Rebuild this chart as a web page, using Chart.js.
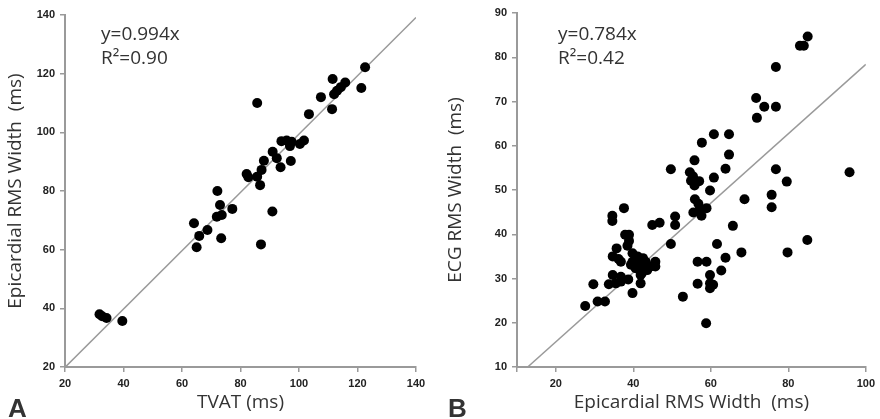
<!DOCTYPE html>
<html>
<head>
<meta charset="utf-8">
<script src="https://cdn.jsdelivr.net/npm/chart.js@4.4.1/dist/chart.umd.min.js"></script>
<style>
  body { margin: 0; background: #fff; }
  #wrap { position: relative; width: 880px; height: 419px; }
  canvas { position: absolute; top: 0; }
</style>
</head>
<body>
<div id="wrap">
  <canvas id="chartA" width="440" height="419" style="left:0"></canvas>
  <canvas id="chartB" width="440" height="419" style="left:440px"></canvas>
</div>
<script>
// Panel A: TVAT vs epicardial RMS width
const tvat = [122.6, 111.5, 115.8, 114.3, 113, 112, 121.3, 107.5, 111.3, 85.7, 103.4,
  94, 95.8, 97.5, 96.9, 100.3, 101.7, 91, 92.4, 97.2, 93.7, 88, 87.2, 82.1, 82.7, 85.7, 86.7,
  72.1, 73, 77.2, 71.9, 73.6, 90.9, 64.1, 68.7, 65.9, 73.4, 65, 87, 31.8, 32.7, 34.2, 39.6];
const epiA = [122.2, 118.2, 117, 115.4, 114.2, 113, 115.1, 112, 107.9, 110, 106.2,
  97, 97.2, 96.8, 95.3, 96, 97.2, 93.4, 91.2, 90.2, 88.1, 90.3, 87.2, 85.8, 84.7, 84.9, 82,
  80, 75.2, 73.9, 71.2, 71.8, 73, 69, 66.7, 64.7, 63.9, 60.8, 61.8, 38, 37.3, 36.7, 35.7];

// Panel B: epicardial RMS width vs ECG RMS width
const epiB = [85, 83, 84, 76.8, 71.7, 73.8, 76.8, 71.9,
  57.7, 60.8, 64.7, 64.7, 63.8, 60.8, 59.8,
  76.8, 79.6, 95.8, 68.7, 75.7, 75.7,
  55.8, 49.7,
  54.6, 55.4, 54.9, 56.3, 57, 55.8,
  55.9, 56.8, 58.9, 55.5, 57.6, 57.2,
  44.9, 46.8, 50.8, 50.8, 65.7,
  49.7, 61.6, 84.9, 79.8, 67.9, 63.8, 56.6, 58.9, 62.7, 59.8, 56.6, 59.8, 60.6, 59.8, 52.8, 58.8,
  27.6, 29.7, 30.8, 32.7, 39.8,
  37.6, 34.6, 34.6,
  37.9, 38.9, 38.9, 38.5, 35.7,
  34.7, 36.2, 36.8,
  39.8, 41.1, 42.5, 39.8, 41.5, 43.2, 40.6, 42.3, 39.4, 44.5, 45.7, 45.7, 41.9, 43.6, 42.2, 41.9,
  34.7, 36.8, 38.7, 33.7, 35.5, 36.8];
const ecgB = [84.7, 82.6, 82.6, 77.8, 70.8, 68.8, 68.8, 66.3,
  60.7, 62.6, 62.6, 58, 54.8, 52.8, 49.9,
  54.7, 51.9, 54, 47.9, 48.9, 46.1,
  56.7, 54.7,
  54, 53.1, 52.1, 51.8, 52, 51,
  47.9, 46.9, 45.9, 44.9, 44.2, 45.6,
  42.1, 42.6, 44, 42.1, 41.9,
  37.8, 37.8, 38.7, 35.9, 35.9, 34.7, 33.8, 33.8, 31.8, 30.8, 28.8, 28.9, 28.6, 27.8, 25.9, 19.9,
  23.8, 28.7, 24.8, 24.8, 26.7,
  45.9, 44.2, 43,
  39.9, 39.9, 38.5, 37.4, 36.8,
  35, 34.4, 33.8,
  35.7, 35, 34.6, 33.8, 33.4, 33.8, 32.3, 31.9, 33.1, 32.7, 33.8, 32.7, 30.8, 31.9, 31.2, 28.9,
  30.8, 30.4, 29.8, 28.7, 28.9, 29.3];

// fit lines (y = slope * x)
const slopeA = 0.994;
const slopeB = 0.784;
const fitRangeA = [20, 140];
const fitRangeB = [12.76, 100];

const TEXT = "#333";
const AXIS = "#9a9a9a";
const TITLE_FONT = { family: "'Open Sans', sans-serif", size: 19 };

function toPoints(xs, ys) {
  return xs.map((x, i) => ({ x: x, y: ys[i] }));
}

// annotation text + panel letter
const labelPlugin = {
  id: "panelText",
  afterDraw: (chart) => {
    const o = chart.options.plugins.panelText;
    const ctx = chart.ctx;
    ctx.save();
    ctx.fillStyle = TEXT;
    ctx.textBaseline = "middle";
    ctx.font = "19px 'Open Sans', sans-serif";
    ctx.fillText(o.eq, o.x, 35);
    ctx.fillText(o.r2, o.x, 59);
    ctx.font = "bold 26px 'Liberation Sans', Arial, sans-serif";
    ctx.textBaseline = "alphabetic";
    ctx.fillText(o.letter, o.letterX, 417);
    ctx.restore();
  },
};

function axis(min, max, step, title, fit, hideFirst) {
  return {
    type: "linear",
    min: min,
    max: max,
    afterFit: fit,
    border: { color: AXIS, width: 2 },
    grid: { drawOnChartArea: false, drawTicks: true, tickLength: 5, color: AXIS, lineWidth: 1.5 },
    ticks: {
      stepSize: step,
      padding: 5,
      color: "#222",
      font: { family: "'Liberation Sans', Arial, sans-serif", size: 11, weight: "bold" },
      callback: (v) => (hideFirst && v === min ? "" : v),
    },
    title: { display: true, text: title, color: TEXT, font: TITLE_FONT, padding: { top: 4, bottom: 5 } },
  };
}

function makeChart(id, pts, slope, range, xs, ys, padRight, text) {
  return new Chart(document.getElementById(id), {
    type: "scatter",
    data: {
      datasets: [
        {
          data: pts,
          backgroundColor: "#000",
          borderWidth: 0,
          pointRadius: 5,
          pointHoverRadius: 5,
        },
        {
          type: "line",
          data: range.map((x) => ({ x: x, y: slope * x })),
          borderColor: "#9a9a9a",
          borderWidth: 1.5,
          pointRadius: 0,
          fill: false,
        },
      ],
    },
    options: {
      responsive: false,
      animation: false,
      layout: { padding: { left: 0, right: padRight, top: ys.top, bottom: 0 } },
      plugins: { legend: { display: false }, tooltip: { enabled: false }, panelText: text },
      scales: { x: xs.cfg, y: ys.cfg },
    },
    plugins: [labelPlugin],
  });
}

makeChart("chartA", toPoints(tvat, epiA), slopeA, fitRangeA,
  { cfg: axis(20, 140, 20, "TVAT (ms)", (s) => { s.height = 52; }, false) },
  { top: 15, cfg: axis(20, 140, 20, "Epicardial RMS Width  (ms)", (s) => { s.width = 65; }, false) },
  24, { eq: "y=0.994x", r2: "R\u00b2=0.90", x: 101, letter: "A", letterX: 8 });

makeChart("chartB", toPoints(epiB, ecgB), slopeB, fitRangeB,
  { cfg: axis(10, 100, 20, "Epicardial RMS Width  (ms)", (s) => { s.height = 52; }, true) },
  { top: 13, cfg: axis(10, 90, 10, "ECG RMS Width  (ms)", (s) => { s.width = 77; }, false) },
  12, { eq: "y=0.784x", r2: "R\u00b2=0.42", x: 118, letter: "B", letterX: 8 });
</script>
</body>
</html>
